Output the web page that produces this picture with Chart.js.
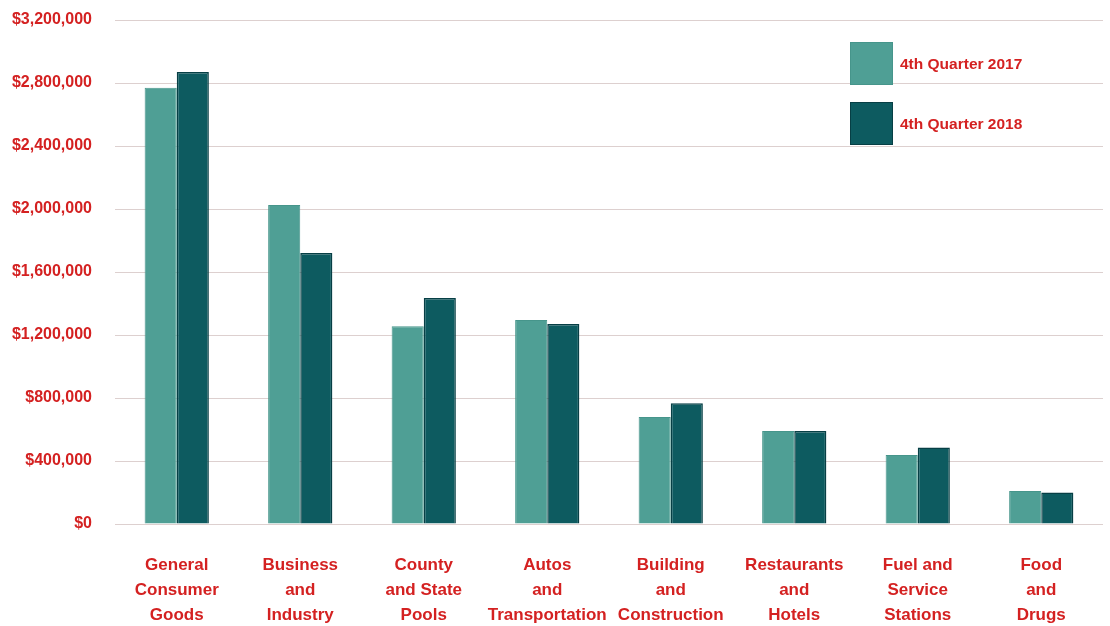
<!DOCTYPE html>
<html>
<head>
<meta charset="utf-8">
<script src="https://cdn.jsdelivr.net/npm/chart.js@4/dist/chart.umd.min.js"></script>
<style>
  html, body { margin: 0; padding: 0; background: #fff; }
  #wrap { position: relative; width: 1110px; height: 626px; }
  #legend { position: absolute; left: 850px; top: 42px; font: bold 15.5px "Liberation Sans", Arial, sans-serif; color: #d42121; }
  #legend .item { display: flex; align-items: center; height: 43px; margin-bottom: 17px; }
  #legend .box { width: 43px; height: 43px; margin-right: 7px; box-sizing: border-box; }
</style>
</head>
<body>
<div id="wrap">
  <canvas id="chart" width="1110" height="626"></canvas>
  <div id="legend"></div>
</div>
<script>
const categories = [
  ["General", "Consumer", "Goods"],
  ["Business", "and", "Industry"],
  ["County", "and State", "Pools"],
  ["Autos", "and", "Transportation"],
  ["Building", "and", "Construction"],
  ["Restaurants", "and", "Hotels"],
  ["Fuel and", "Service", "Stations"],
  ["Food", "and", "Drugs"]
];
const q4_2017 = [2770000, 2025000, 1255000, 1295000, 680000, 590000, 438000, 210000];
const q4_2018 = [2870000, 1720000, 1435000, 1270000, 766000, 590000, 485000, 200000];
const yTickLabels = ["$0", "$400,000", "$800,000", "$1,200,000", "$1,600,000", "$2,000,000", "$2,400,000", "$2,800,000", "$3,200,000"];

const red = "#d42121";
const font = "'Liberation Sans', Arial, sans-serif";

const datasets = [
  { label: "4th Quarter 2017", data: q4_2017, backgroundColor: "#4f9f95", borderColor: "#46958b", borderWidth: 1 },
  { label: "4th Quarter 2018", data: q4_2018, backgroundColor: "#0d5b60", borderColor: "#073f45", borderWidth: 1.5 }
];

new Chart(document.getElementById("chart"), {
  type: "bar",
  data: { labels: categories, datasets: datasets },
  options: {
    responsive: false,
    animation: false,
    layout: { padding: { top: 20, right: 7, left: 0, bottom: 0 } },
    categoryPercentage: 0.52,
    barPercentage: 1.0,
    plugins: { legend: { display: false }, tooltip: { enabled: false } },
    scales: {
      x: {
        grid: { display: false },
        border: { display: false },
        ticks: {
          color: red, padding: 21, maxRotation: 0, autoSkip: false,
          font: { family: font, size: 17, weight: "bold", lineHeight: 1.47 }
        },
        afterFit: (s) => { s.height = 102; }
      },
      y: {
        min: 0, max: 3200000,
        // invisible ticks give the gap between labels and gridlines
        grid: { color: "#ddd0cf", lineWidth: 1, drawTicks: true, tickLength: 23, tickColor: "rgba(0,0,0,0)" },
        border: { display: false },
        ticks: {
          stepSize: 400000, padding: 0, color: red,
          font: { family: font, size: 16, weight: "bold" },
          callback: (v, i) => yTickLabels[i]
        },
        afterFit: (s) => { s.width = 115; }
      }
    }
  }
});

const legend = document.getElementById("legend");
datasets.forEach(d => {
  const item = document.createElement("div");
  item.className = "item";
  const box = document.createElement("span");
  box.className = "box";
  box.style.background = d.backgroundColor;
  box.style.border = "1px solid " + d.borderColor;
  const txt = document.createElement("span");
  txt.textContent = d.label;
  item.appendChild(box);
  item.appendChild(txt);
  legend.appendChild(item);
});
</script>
</body>
</html>
